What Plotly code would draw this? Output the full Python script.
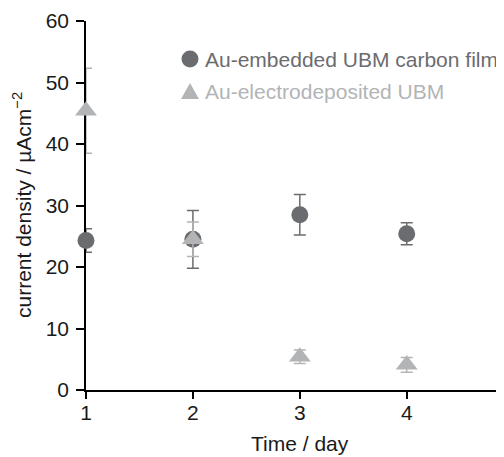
import plotly.graph_objects as go

days = [1, 2, 3, 4]
embedded = [24.3, 24.5, 28.5, 25.4]
embedded_err = [1.9, 4.7, 3.3, 1.8]
electro = [45.4, 24.5, 5.4, 4.1]
electro_err = [6.9, 2.8, 1.1, 1.2]

names = ["Au-embedded UBM carbon film", "Au-electrodeposited UBM"]
x_title = "Time / day"
y_title = "current density / µAcm<sup>−2</sup>"
dark = "#6b6c6f"
light = "#b2b4b6"
FONT = "Liberation Sans, Arial, sans-serif"
FS = 21

# the page body has an 8px margin, so the figure starts at (8, 8) on screen
OFF = 8
W, H = 504 - OFF, 457 - OFF
# plot-area geometry in screen pixels
L, R, T, B = 86, 504, 21, 390
def px(x):
    return (x - L) / (R - L)
def py(y):
    return (B - y) / (B - T)

fig = go.Figure()
fig.add_trace(go.Scatter(
    x=days, y=embedded, mode="markers", name=names[0],
    marker=dict(symbol="circle", size=17, color=dark),
    error_y=dict(type="data", array=embedded_err, color=dark, thickness=1.5, width=6),
    cliponaxis=False, showlegend=False,
))
fig.add_trace(go.Scatter(
    x=days, y=electro, mode="markers", name=names[1],
    marker=dict(symbol="triangle-up", size=19, color=light),
    error_y=dict(type="data", array=electro_err, color=light, thickness=1.5, width=6),
    cliponaxis=False, showlegend=False,
))

# manual legend
shapes = [
    dict(type="circle", xref="paper", yref="paper", xsizemode="pixel", ysizemode="pixel",
         xanchor=px(190), yanchor=py(59), x0=-8.5, x1=8.5, y0=-8.5, y1=8.5,
         fillcolor=dark, line=dict(width=0)),
    dict(type="path", xref="paper", yref="paper", xsizemode="pixel", ysizemode="pixel",
         xanchor=px(190), yanchor=py(91), path="M-9,-8 L9,-8 L0,8 Z",
         fillcolor=light, line=dict(width=0)),
]
annotations = [
    dict(text=names[0], xref="paper", yref="paper", x=px(203), y=py(59),
         xanchor="left", yanchor="middle", showarrow=False,
         font=dict(size=FS, color=dark, family=FONT)),
    dict(text=names[1], xref="paper", yref="paper", x=px(203), y=py(91),
         xanchor="left", yanchor="middle", showarrow=False,
         font=dict(size=FS, color=light, family=FONT)),
    dict(text=x_title, xref="paper", yref="paper", x=px(300), y=py(444),
         xanchor="center", yanchor="middle", showarrow=False,
         font=dict(size=FS, color="#1a1a1a", family=FONT)),
    dict(text=y_title, xref="paper", yref="paper", x=px(22), y=py(205),
         xanchor="center", yanchor="middle", showarrow=False, textangle=-90,
         font=dict(size=FS, color="#1a1a1a", family=FONT)),
]

fig.update_layout(
    width=W, height=H,
    margin=dict(l=L - OFF, r=0, t=T - OFF, b=H - (B - OFF), pad=0),
    paper_bgcolor="white", plot_bgcolor="white",
    font=dict(family=FONT, size=FS, color="#1a1a1a"),
    showlegend=False,
    shapes=shapes, annotations=annotations,
    xaxis=dict(range=[1, 4.91], tickvals=days, ticktext=[str(d) for d in days],
               showgrid=False, zeroline=False, showline=True, linecolor="black",
               linewidth=1.5, ticks="outside", ticklen=7, tickwidth=1.5,
               tickcolor="black", layer="below traces", ticklabelstandoff=-4),
    yaxis=dict(range=[0, 60], tickvals=[0, 10, 20, 30, 40, 50, 60],
               showgrid=False, zeroline=False, showline=True, linecolor="black",
               linewidth=1.5, ticks="outside", ticklen=8, tickwidth=1.5,
               tickcolor="black", layer="below traces", ticklabelstandoff=3),
)

fig.write_html("out.html")
